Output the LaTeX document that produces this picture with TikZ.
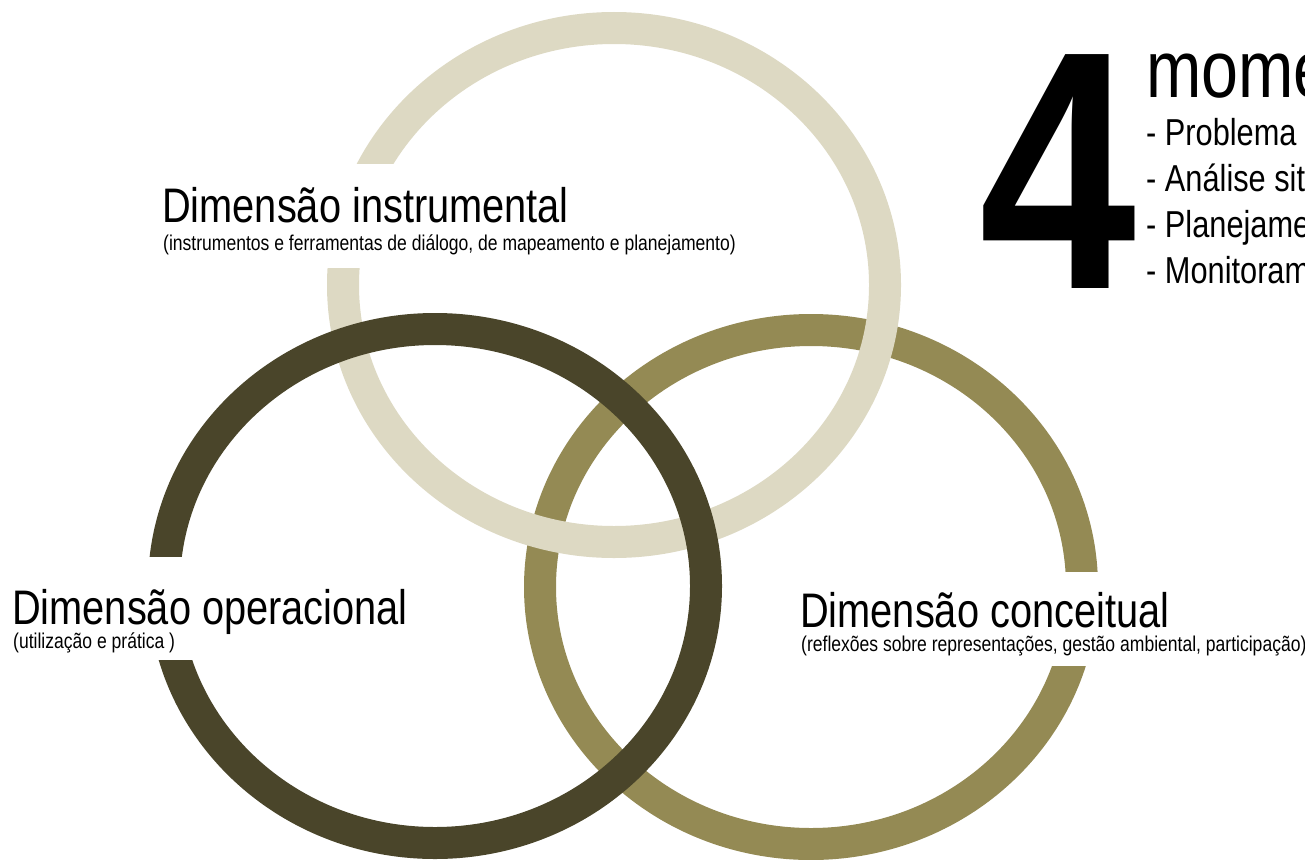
\documentclass[tikz,border=0pt]{standalone}
\usepackage{fontspec}
\setmainfont{Liberation Sans}[FakeStretch=0.82]
\newfontfamily\fourfont{Liberation Sans}[FakeStretch=0.83]
\usetikzlibrary{backgrounds, calc}

\definecolor{ringlight}{HTML}{DDD9C3}
\definecolor{ringdark}{HTML}{4A452A}
\definecolor{ringolive}{HTML}{948A54}

\begin{document}
\begin{tikzpicture}[
	x=1pt, y=-1pt,
	ring/.style  = {line width=32pt},
	title/.style = {anchor=base west, inner sep=0, font=\fontsize{48.5}{48.5}\selectfont},
	sub/.style   = {anchor=base west, inner sep=0, font=\fontsize{21.4}{21.4}\selectfont},
	item/.style  = {anchor=base west, inner sep=0, font=\fontsize{37.5}{37.5}\selectfont},
	gap/.style   = {fill=white}
	]
	
	\useasboundingbox (0, 0) rectangle (1305, 859);
	\clip (0, 0) rectangle (1305, 859);
	
	% ===== ===== ===== ===== =====
	
	% Nodes
	\node[title]	(inst)		at	(162, 222)	{Dimensão instrumental};
	\node[sub]	(inst-sub)	at	(163, 250)	{(instrumentos e ferramentas de diálogo, de mapeamento e planejamento)};
	
	\node[title]	(oper)		at	(12, 624)	{Dimensão operacional};
	\node[sub]	(oper-sub)	at	(13, 648)	{(utilização e prática )};
	
	\node[title]	(conc)		at	(800, 627)	{Dimensão conceitual};
	\node[sub]	(conc-sub)	at	(801, 651)	{(reflexões sobre representações, gestão ambiental, participação)};
	
	
	
	% ===== ===== ===== ===== =====
	
	% Nodes
	\node[anchor=base west, inner sep=0, font=\fontsize{340}{340}\selectfont\fourfont\bfseries]
			(four)		at	(979, 288)	{4};
	\node[anchor=base west, inner sep=0, font=\fontsize{81}{81}\selectfont]
			(mom)		at	(1146, 97)	{mome};
	\node[item]	(it1)		at	(1146, 145)	{- Problema};
	\node[item]	(it2)		at	(1146, 191)	{- Análise sit};
	\node[item]	(it3)		at	(1146, 237)	{- Planejame};
	\node[item]	(it4)		at	(1146, 283)	{- Monitoram};
	
	
	
	% ===== ===== ===== ===== =====
	
	% Rings
	\begin{scope}[on background layer]
		\draw[ring, ringolive]	(811, 587)	ellipse [x radius=271, y radius=257];
		\draw[ring, ringlight]	(614, 285)	ellipse [x radius=271, y radius=257];
		\draw[ring, ringdark]	(435, 586)	ellipse [x radius=271, y radius=257];
		
		\fill[gap] ($(inst.base west)+(-4,-58)$) rectangle ($(inst.base east)+(4,46)$);
		\fill[gap] ($(oper.base west)+(-4,-67)$) rectangle ($(oper.base east)+(4,36)$);
		\fill[gap] ($(conc.base west)+(-4,-55)$) rectangle ($(conc.base east)+(4,39)$);
	\end{scope}
	
\end{tikzpicture}
\end{document}
